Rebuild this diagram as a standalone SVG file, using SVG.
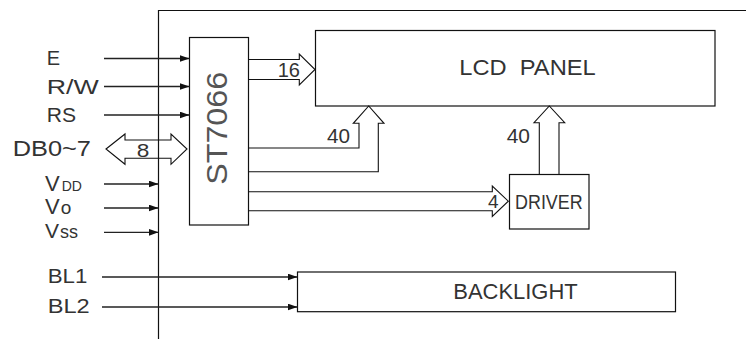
<svg xmlns="http://www.w3.org/2000/svg" width="746" height="339" viewBox="0 0 746 339">
<defs>
<style>
.ln{fill:none;stroke:#111;stroke-width:1.2}
.box{fill:#fff;stroke:#111;stroke-width:1.2}
.bus{fill:none;stroke:#111;stroke-width:1.1;stroke-linejoin:miter}
.t{font-family:"Liberation Sans",Arial,sans-serif;fill:#333}
.sig{stroke:#222;stroke-width:1.3;fill:none;marker-end:url(#ah)}
</style>
<marker id="ah" markerUnits="userSpaceOnUse" markerWidth="11" markerHeight="8" refX="10" refY="3.5" orient="auto">
<path d="M0,0 L10,3.5 L0,7 z" fill="#111"/>
</marker>
</defs>
<rect width="746" height="339" fill="#fff"/>
<g id="frame">
<path class="ln" d="M158.5,339 V10.5 H746"/>
</g>
<g id="chip">
<rect class="box" x="189.5" y="37.5" width="59" height="187.5"/>
<text class="t" font-size="29" fill="#555" style="fill:#555" text-anchor="middle" textLength="113" lengthAdjust="spacingAndGlyphs" transform="translate(226.7,128.3) rotate(-90)">ST7066</text>
</g>
<g id="lcd">
<rect class="box" x="315.5" y="30.5" width="399.5" height="75.5"/>
<text class="t" x="459.3" y="75" font-size="22" textLength="136.4" lengthAdjust="spacingAndGlyphs" xml:space="preserve">LCD  PANEL</text>
</g>
<g id="driver">
<rect class="box" x="509.5" y="174.5" width="79.5" height="54.5"/>
<text class="t" x="515" y="209" font-size="20" textLength="67.7" lengthAdjust="spacingAndGlyphs">DRIVER</text>
</g>
<g id="backlight">
<rect class="box" x="297.5" y="272" width="378" height="39.7"/>
<text class="t" x="453.3" y="299.3" font-size="22" textLength="124.4" lengthAdjust="spacingAndGlyphs">BACKLIGHT</text>
</g>
<g id="labels">
<text class="t" x="46.7" y="65" font-size="20">E</text>
<text class="t" x="46.7" y="94" font-size="21" textLength="52" lengthAdjust="spacingAndGlyphs">R/W</text>
<text class="t" x="46.7" y="121.6" font-size="21" textLength="29.3" lengthAdjust="spacingAndGlyphs">RS</text>
<text class="t" x="12.7" y="155.7" font-size="22" textLength="78.3" lengthAdjust="spacingAndGlyphs">DB0~7</text>
<text class="t" x="45" y="190.7" font-size="22">V<tspan font-size="14" dx="2">DD</tspan></text>
<text class="t" x="45" y="214" font-size="22">V<tspan font-size="19" dx="1">o</tspan></text>
<text class="t" x="45" y="238.3" font-size="21">V<tspan font-size="18" dx="1">ss</tspan></text>
<text class="t" x="47.7" y="283" font-size="21" textLength="39.6" lengthAdjust="spacingAndGlyphs">BL1</text>
<text class="t" x="47.7" y="313" font-size="21" textLength="42" lengthAdjust="spacingAndGlyphs">BL2</text>
</g>
<g id="connectors">
<line class="sig" x1="104" y1="58.5" x2="189.5" y2="58.5"/>
<line class="sig" x1="104" y1="86.5" x2="189.5" y2="86.5"/>
<line class="sig" x1="104" y1="115" x2="189.5" y2="115"/>
<line class="sig" x1="104" y1="184" x2="158.5" y2="184"/>
<line class="sig" x1="104" y1="208" x2="158.5" y2="208"/>
<line class="sig" x1="104" y1="232.3" x2="158.5" y2="232.3"/>
<line class="sig" x1="102" y1="277" x2="297.5" y2="277"/>
<line class="sig" x1="102" y1="307" x2="297.5" y2="307"/>
<path class="bus" d="M106,149 L125,134 V140 H171 V134 L187,149 L171,164.3 V158.3 H125 V164.3 Z"/>
<path class="bus" d="M248.5,59.5 H299.3 V54 L315,69.5 L299.3,85 V79.5 H248.5"/>
<path class="bus" d="M248.5,148 H359 V123.3 H353.3 L368.7,106 L384,123.3 H378.3 V171.7 H248.5"/>
<path class="bus" d="M248.5,191.7 H492.3 V186 L508.3,201.2 L492.3,216.4 V210.7 H248.5"/>
<path class="bus" d="M539.3,174.5 V122.7 H534 L549.3,106 L564.7,122.7 H559 V174.5"/>
<text class="t" x="136.7" y="156.7" font-size="19" textLength="12.6" lengthAdjust="spacingAndGlyphs">8</text>
<text class="t" x="277.7" y="76.7" font-size="20" textLength="22.3" lengthAdjust="spacingAndGlyphs">16</text>
<text class="t" x="327" y="142.7" font-size="20" textLength="23" lengthAdjust="spacingAndGlyphs">40</text>
<text class="t" x="506.7" y="142.7" font-size="20" textLength="23.3" lengthAdjust="spacingAndGlyphs">40</text>
<text class="t" x="488" y="208" font-size="19">4</text>
</g>
</svg>
